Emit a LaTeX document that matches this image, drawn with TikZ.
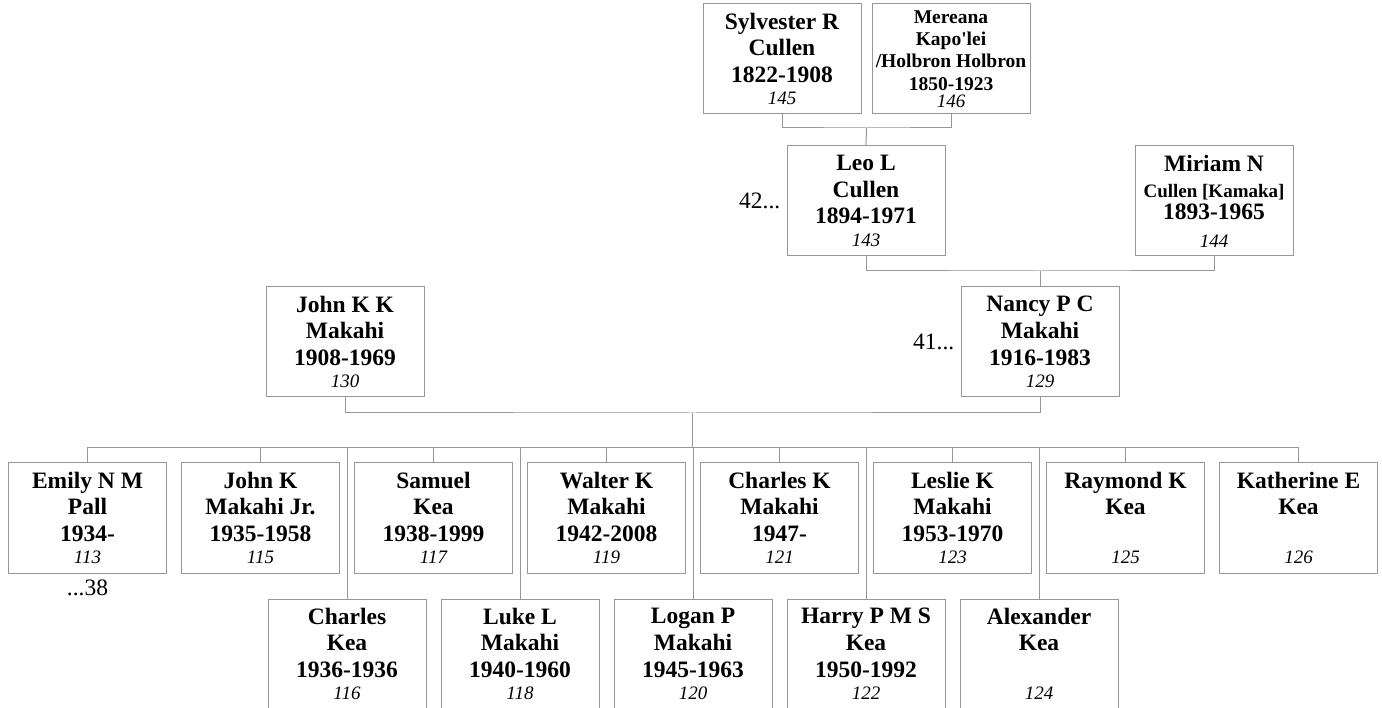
\documentclass[tikz,border=0pt]{standalone}
\usepackage{fontspec}
\setmainfont{Liberation Serif}
\definecolor{boxgray}{RGB}{150,150,150}
\newcommand\idn[1]{{\fontsize{19}{22}\selectfont\mdseries\itshape #1}}
\newcommand\smallname[1]{{\fontsize{19}{22}\selectfont #1}}
\tikzset{
  person/.style={draw=boxgray, line width=1pt, fill=white, minimum width=158pt,
    minimum height=110pt, inner sep=0pt, align=center,
    font=\fontsize{23.5}{26.6}\selectfont\bfseries},
  personsmall/.style={person, font=\fontsize{19.5}{22.3}\selectfont\bfseries},
  conn/.style={draw=boxgray, line width=1pt},
  more/.style={inner sep=0pt, font=\fontsize{23.5}{26}\selectfont}
}
\begin{document}
\begin{tikzpicture}[x=1pt,y=-1pt]
\useasboundingbox[fill=white] (0,0) rectangle (1382,708);
% generation 1
\node[person] (syl) at (782,59) {Sylvester R\\Cullen\\1822-1908\\[-4.2pt]\idn{145}};
\node[personsmall] (mer) at (951,59) {Mereana\\Kapo\textquotesingle lei\\/Holbron Holbron\\1850-1923\\[-5pt]\idn{146}};
% generation 2
\node[person] (leo) at (866,201) {Leo L\\Cullen\\1894-1971\\[-4.2pt]\idn{143}};
\node[person] (mir) at (1214,201) {Miriam N\\\smallname{Cullen [Kamaka]}\\[-5pt]1893-1965\\[1.5pt]\idn{144}};
% generation 3
\node[person] (john) at (345,342) {John K K\\Makahi\\1908-1969\\[-4.2pt]\idn{130}};
\node[person] (nancy) at (1040,342) {Nancy P C\\Makahi\\1916-1983\\[-4.2pt]\idn{129}};
% children, upper row
\node[person] (c113) at (87.5,518) {Emily N M\\Pall\\1934-\\[-4.2pt]\idn{113}};
\node[person] (c115) at (260.5,518) {John K\\Makahi Jr.\\1935-1958\\[-4.2pt]\idn{115}};
\node[person] (c117) at (433.5,518) {Samuel\\Kea\\1938-1999\\[-4.2pt]\idn{117}};
\node[person] (c119) at (606.5,518) {Walter K\\Makahi\\1942-2008\\[-4.2pt]\idn{119}};
\node[person] (c121) at (779.5,518) {Charles K\\Makahi\\1947-\\[-4.2pt]\idn{121}};
\node[person] (c123) at (952.5,518) {Leslie K\\Makahi\\1953-1970\\[-4.2pt]\idn{123}};
\node[person] (c125) at (1125.5,518) {Raymond K\\Kea\\\strut\\[-4.2pt]\idn{125}};
\node[person] (c126) at (1298.5,518) {Katherine E\\Kea\\\strut\\[-4.2pt]\idn{126}};
% children, lower row
\node[person] (c116) at (347,654) {Charles\\Kea\\1936-1936\\[-4.2pt]\idn{116}};
\node[person] (c118) at (520,654) {Luke L\\Makahi\\1940-1960\\[-4.2pt]\idn{118}};
\node[person] (c120) at (693,654) {Logan P\\Makahi\\1945-1963\\[-4.2pt]\idn{120}};
\node[person] (c122) at (866,654) {Harry P M S\\Kea\\1950-1992\\[-4.2pt]\idn{122}};
\node[person] (c124) at (1039,654) {Alexander\\Kea\\\strut\\[-4.2pt]\idn{124}};
% continuation labels
\node[more, anchor=east] (m42) at ([xshift=-6pt]leo.west) {42...};
\node[more, anchor=east] (m41) at ([xshift=-6pt]nancy.west) {41...};
\node[more, anchor=north] (m38) at ([yshift=-6pt]c113.south) {...38};
% junctions
\coordinate (u1) at (866.5,128);
\coordinate (u2) at (1040,271);
\coordinate (u3) at (692.5,413);
\coordinate (bus) at (692.5,448);
% connectors
\draw[conn] (syl.south) |- (u1) -| (mer.south);
\draw[conn] (u1) -- (leo.north);
\draw[conn] (leo.south) |- (u2) -| (mir.south);
\draw[conn] (u2) -- (nancy.north);
\draw[conn] (john.south) |- (u3) -| (nancy.south);
\draw[conn] (u3) -- (bus);
\foreach \c in {c113,c115,c117,c119,c121,c123,c125,c126,c116,c118,c120,c122,c124}
  \draw[conn] (bus) -| (\c.north);
\end{tikzpicture}
\end{document}
